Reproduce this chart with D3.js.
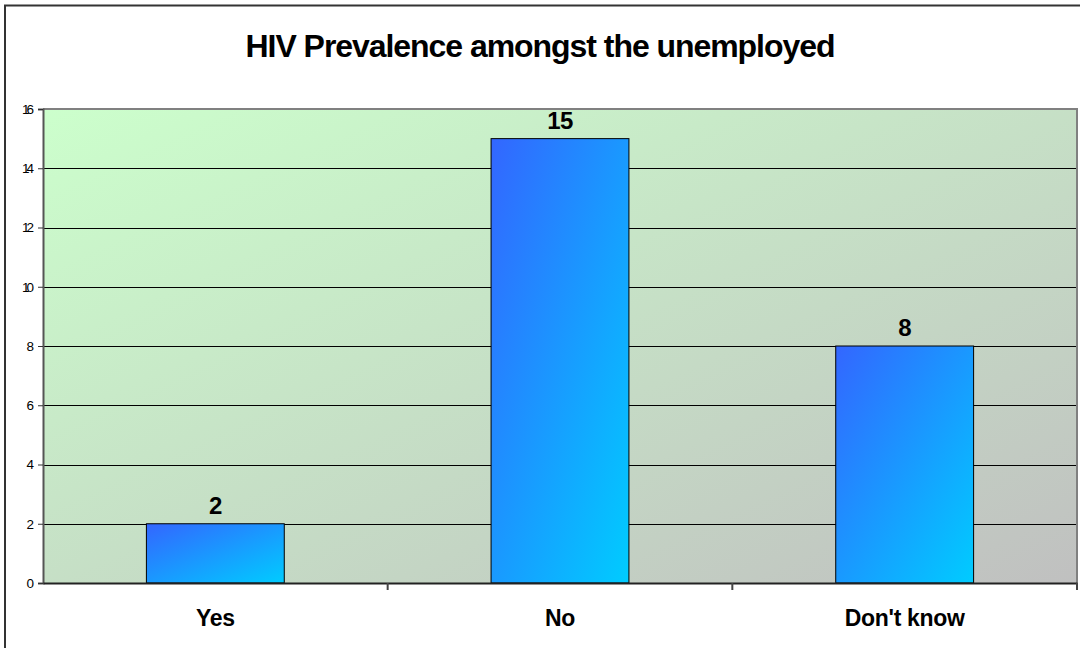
<!DOCTYPE html>
<html>
<head>
<meta charset="utf-8">
<script src="https://cdn.jsdelivr.net/npm/d3@7"></script>
<style>
  html, body { margin: 0; padding: 0; background: #fff; }
  svg { display: block; font-family: "Liberation Sans", Arial, sans-serif; }
</style>
</head>
<body>
<svg id="chart" width="1080" height="648"></svg>
<script>
// Survey responses
const categories = ["Yes", "No", "Don't know"];
const counts = [2, 15, 8];
const yTicks = [0, 2, 4, 6, 8, 10, 12, 14, 16];
const chartTitle = "HIV Prevalence amongst the unemployed";

const svg = d3.select("#chart");
const W = 1080, H = 648;
const plot = { left: 43, right: 1077, top: 109, bottom: 583 };

const defs = svg.append("defs");
const bg = defs.append("linearGradient").attr("id", "bgGrad")
  .attr("x1", "0%").attr("y1", "0%").attr("x2", "100%").attr("y2", "100%");
bg.append("stop").attr("offset", "0%").attr("stop-color", "#ccffcc");
bg.append("stop").attr("offset", "100%").attr("stop-color", "#c0c0c0");

const barGrad = defs.append("linearGradient").attr("id", "barGrad")
  .attr("x1", "0%").attr("y1", "0%").attr("x2", "100%").attr("y2", "100%");
barGrad.append("stop").attr("offset", "0%").attr("stop-color", "#3366ff");
barGrad.append("stop").attr("offset", "100%").attr("stop-color", "#00ccff");

// Outer chart frame
svg.append("path")
  .attr("d", `M5,${H} V5.5 H${W}`)
  .attr("fill", "none").attr("stroke", "#333").attr("stroke-width", 2);

// Title
svg.append("text")
  .attr("x", 540).attr("y", 57)
  .attr("text-anchor", "middle")
  .attr("font-weight", "bold").attr("font-size", 32)
  .attr("letter-spacing", -1.05)
  .text(chartTitle);

const x = d3.scaleBand().domain(categories)
  .range([plot.left, plot.right]).paddingInner(0).paddingOuter(0);
const y = d3.scaleLinear().domain([0, 16]).range([plot.bottom, plot.top]);

// Plot background
svg.append("rect")
  .attr("x", plot.left).attr("y", plot.top)
  .attr("width", plot.right - plot.left).attr("height", plot.bottom - plot.top)
  .attr("fill", "url(#bgGrad)");

// Gridlines
svg.append("g").selectAll("line").data(yTicks.filter(d => d > 0 && d < 16)).join("line")
  .attr("x1", plot.left).attr("x2", plot.right)
  .attr("y1", d => Math.round(y(d)) + 0.5).attr("y2", d => Math.round(y(d)) + 0.5)
  .attr("stroke", "#000").attr("stroke-width", 1);

// Plot frame (top / right grey)
svg.append("path")
  .attr("d", `M${plot.left},${plot.top} H${plot.right} V${plot.bottom}`)
  .attr("fill", "none").attr("stroke", "#808080").attr("stroke-width", 2);

// Bars
const barW = x.bandwidth() * 0.40;
svg.append("g").selectAll("rect").data(counts).join("rect")
  .attr("x", (d, i) => x(categories[i]) + (x.bandwidth() - barW) / 2)
  .attr("y", d => y(d))
  .attr("width", barW)
  .attr("height", d => y(0) - y(d))
  .attr("fill", "url(#barGrad)")
  .attr("stroke", "#000").attr("stroke-width", 1);

// Value labels
svg.append("g").selectAll("text").data(counts).join("text")
  .attr("x", (d, i) => x(categories[i]) + x.bandwidth() / 2)
  .attr("y", d => y(d) - 10)
  .attr("text-anchor", "middle")
  .attr("font-weight", "bold").attr("font-size", 24)
  .attr("letter-spacing", -0.5)
  .text(d => d);

// Y axis
const yAxis = d3.axisLeft(y).tickValues(yTicks).tickSize(5).tickPadding(4);
const yg = svg.append("g").attr("transform", `translate(${plot.left},0)`).call(yAxis);
yg.select(".domain").attr("stroke", "#555").attr("stroke-width", 2);
yg.selectAll(".tick line").attr("stroke", "#333");
yg.selectAll(".tick text").attr("font-size", 13.5)
  .attr("letter-spacing", d => d >= 10 ? -3 : 0)
  .attr("dx", d => d >= 10 ? -3 : 0)
  .attr("font-family", "'Liberation Sans', Arial, sans-serif").attr("fill", "#000");

// X axis
const xAxis = d3.axisBottom(x).tickSize(0).tickPadding(27);
const xg = svg.append("g").attr("transform", `translate(0,${plot.bottom})`).call(xAxis);
xg.select(".domain").attr("stroke", "#222").attr("stroke-width", 2);
xg.selectAll(".tick text").attr("font-size", 23).attr("font-weight", "bold")
  .attr("letter-spacing", -0.3)
  .attr("font-family", "'Liberation Sans', Arial, sans-serif").attr("fill", "#000");

// Category dividers on x axis
svg.append("g").selectAll("line").data(categories).join("line")
  .attr("x1", d => x(d) + x.bandwidth())
  .attr("x2", d => x(d) + x.bandwidth())
  .attr("y1", plot.bottom).attr("y2", plot.bottom + 7)
  .attr("stroke", "#444").attr("stroke-width", 2);
</script>
</body>
</html>
